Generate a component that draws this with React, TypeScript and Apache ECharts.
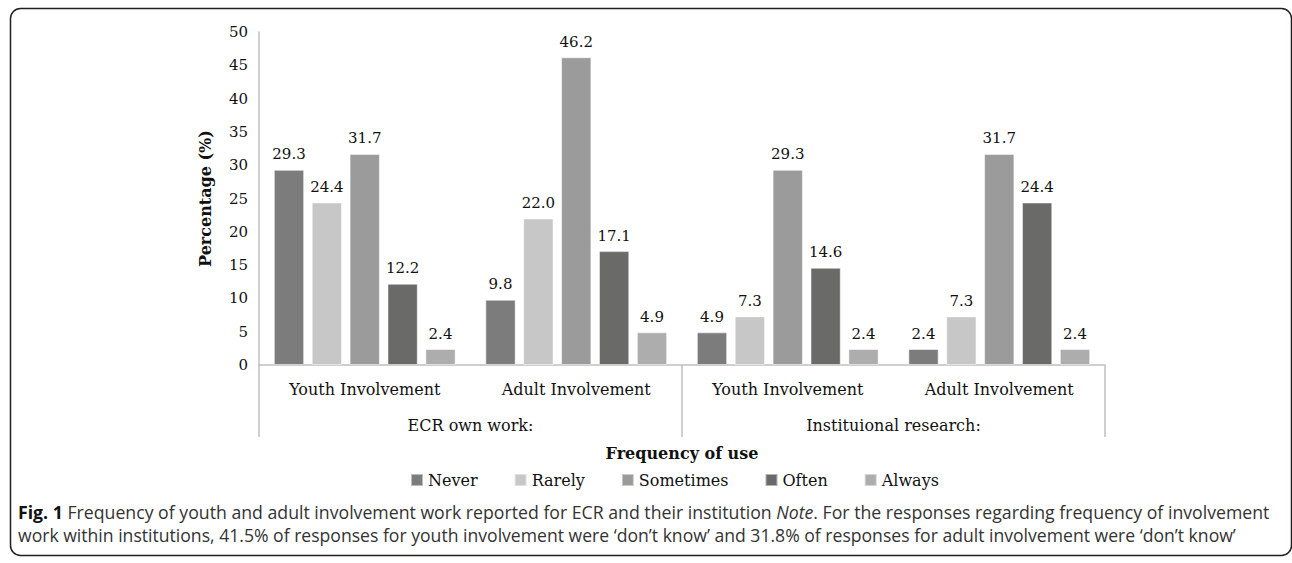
import React, { useEffect, useRef } from "react";
import * as echarts from "echarts";

const categories = ["Youth Involvement", "Adult Involvement", "Youth Involvement", "Adult Involvement"];
const groups = ["ECR own work:", "Instituional research:"];
const seriesNames = ["Never", "Rarely", "Sometimes", "Often", "Always"];
const never = [29.3, 9.8, 4.9, 2.4];
const rarely = [24.4, 22.0, 7.3, 7.3];
const sometimes = [31.7, 46.2, 29.3, 31.7];
const often = [12.2, 17.1, 14.6, 24.4];
const always = [2.4, 4.9, 2.4, 2.4];
const yTicks = { min: 0, max: 50, interval: 5 };
const colors = ["#7c7c7c", "#c6c7c6", "#9a9b9a", "#6a6a68", "#adadad"];

const SERIF = "'DejaVu Serif', serif";
const SANS = "'Open Sans', 'Noto Sans', sans-serif";

export default function App() {
  const ref = useRef<HTMLDivElement>(null);
  useEffect(() => {
    if (!ref.current) return;
    const chart = echarts.init(ref.current, null, { renderer: "svg" });
    const values = [never, rarely, sometimes, often, always];
    const series = seriesNames.map((name, i) => ({
      name,
      type: "bar",
      xAxisIndex: 0,
      yAxisIndex: 0,
      data: values[i],
      barWidth: 30.3,
      barGap: "25%",
      itemStyle: { color: colors[i], borderColor: "rgba(255,255,255,0.5)", borderWidth: 1 },
      label: {
        show: true,
        position: "top",
        distance: 8,
        formatter: (p: any) => Number(p.value).toFixed(1),
        fontFamily: SERIF,
        fontSize: 15,
        color: "#111",
      },
    }));
    chart.setOption({
      animation: false,
      backgroundColor: "#fff",
      grid: { left: 259, right: 187, top: 32, bottom: 198, outerBoundsMode: "none" },
      legend: {
        data: seriesNames,
        left: 410,
        top: 472,
        padding: 0,
        icon: "rect",
        itemWidth: 12,
        itemHeight: 12,
        itemGap: 36,
        textStyle: { fontFamily: SERIF, fontSize: 16, color: "#111" },
      },
      xAxis: [
        {
          type: "category",
          data: categories,
          position: "bottom",
          axisLine: { show: true, onZero: false, lineStyle: { color: "#bfbfbf", width: 1.5 } },
          axisTick: { show: false },
          axisLabel: { margin: 16, fontFamily: SERIF, fontSize: 16, color: "#111", interval: 0 },
        },
        {
          type: "category",
          data: groups,
          position: "bottom",
          offset: 0,
          axisLine: { show: false, onZero: false },
          axisTick: { show: true, length: 72, interval: 0, lineStyle: { color: "#bfbfbf", width: 1.5 } },
          axisLabel: { margin: 52, fontFamily: SERIF, fontSize: 16, color: "#111", interval: 0 },
          name: "Frequency of use",
          nameLocation: "middle",
          nameGap: 80,
          nameTextStyle: { fontFamily: SERIF, fontSize: 16, fontWeight: "bold", color: "#111" },
        },
      ],
      yAxis: {
        type: "value",
        min: yTicks.min,
        max: yTicks.max,
        interval: yTicks.interval,
        axisLine: { show: true, lineStyle: { color: "#bfbfbf", width: 1.5 } },
        axisTick: { show: false },
        splitLine: { show: false },
        axisLabel: { margin: 11, fontFamily: SERIF, fontSize: 15, color: "#111" },
        name: "Percentage (%)",
        nameLocation: "middle",
        nameGap: 46,
        nameTextStyle: { fontFamily: SERIF, fontSize: 16, fontWeight: "bold", color: "#111" },
      },
      series,
      graphic: [
        {
          type: "rect",
          shape: { x: 10.5, y: 8.5, width: 1281, height: 547, r: 10 },
          style: { fill: "none", stroke: "#231f20", lineWidth: 1.5 },
          silent: true,
        },
        {
          type: "text",
          x: 18,
          y: 512,
          style: {
            text:
              "{b|Fig. 1} Frequency of youth and adult involvement work reported for ECR and their institution {i|Note}. For the responses regarding frequency of involvement",
            fontFamily: SANS,
            fontSize: 17.7,
            fill: "#333",
            verticalAlign: "middle",
            rich: {
              b: { fontFamily: SANS, fontSize: 17.7, fontWeight: "bold", fill: "#111", color: "#111" },
              i: { fontFamily: SANS, fontSize: 17.7, fontStyle: "italic", fill: "#333", color: "#333" },
            },
          },
        },
        {
          type: "text",
          x: 18,
          y: 535,
          style: {
            text:
              "work within institutions, 41.5% of responses for youth involvement were \u2018don\u2019t know\u2019 and 31.8% of responses for adult involvement were \u2018don\u2019t know\u2019",
            fontFamily: SANS,
            fontSize: 17.6,
            fill: "#333",
            verticalAlign: "middle",
          },
        },
      ],
    });
    return () => chart.dispose();
  }, []);
  return (
    <div
      ref={ref}
      style={{ position: "fixed", left: 0, top: 0, width: 1292, height: 563 }}
    />
  );
}
